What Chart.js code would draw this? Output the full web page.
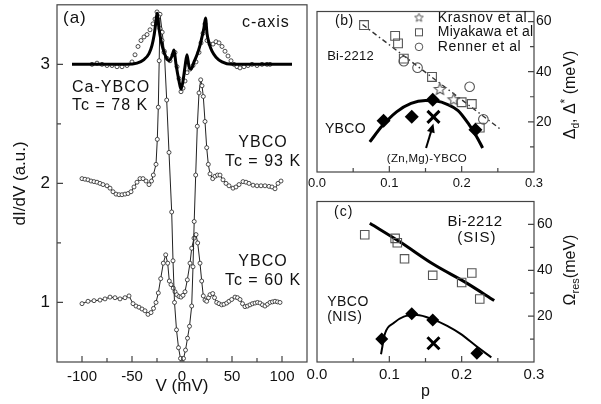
<!DOCTYPE html>
<html>
<head>
<meta charset="utf-8">
<script src="https://cdn.jsdelivr.net/npm/chart.js@4"></script>
<style>
body { margin: 0; background: #fff; }
#wrap { position: relative; width: 601px; height: 404px; overflow: hidden; }
canvas { position: absolute; }
</style>
</head>
<body>
<div id="wrap">
  <canvas id="ca" width="312" height="404" style="left:0;top:0"></canvas>
  <canvas id="cb" width="301" height="190" style="left:300px;top:0"></canvas>
  <canvas id="cc" width="301" height="214" style="left:300px;top:190px"></canvas>
</div>
<script>
const FONT = "'Liberation Sans', Arial, sans-serif";
Chart.defaults.font.family = FONT;
Chart.defaults.color = '#111';

// ---- panel (a): dI/dV spectra ----
const aTicksX = [-100, -50, 0, 50, 100];
const aTicksY = [1, 2, 3];

// Ca-YBCO, Tc = 78 K (open circles)
const caV = [-90, -85, -80, -75, -70, -65, -60, -55, -50, -47, -44, -41, -38, -35, -32, -29, -27, -25,
  -23.5, -22, -20, -18, -15, -12, -9, -7, -5, -3, -1, 1, 3, 5, 8, 11, 14, 17, 19, 21, 23, 25,
  28, 31, 34, 37, 40, 43, 46, 49, 52, 55, 58, 62, 66, 70, 75, 80, 85, 88];
const caY = [3.0, 3.01, 3.0, 2.99, 2.99, 2.98, 2.98, 2.99, 3.02, 3.08, 3.15, 3.2, 3.23, 3.25, 3.29, 3.34, 3.38, 3.44,
  3.4, 3.3, 3.2, 3.1, 3.05, 3.03, 3.08, 3.1, 2.98, 2.88, 2.77, 2.8, 2.86, 2.93, 2.96, 2.99, 3.02, 3.1, 3.18, 3.26, 3.34, 3.2,
  3.17, 3.17, 3.19, 3.18, 3.15, 3.11, 3.07, 3.03, 3.0, 2.98, 2.97, 2.98, 2.99, 3.0, 2.99, 3.0, 3.0, 3.0];

// Ca-YBCO fit (thick line)
const caFitV = [-110, -70, -55, -45, -38, -33, -30, -28, -26.5, -25, -23, -21, -19, -16, -13, -10, -8, -6, -3, -1,
  1, 3, 5, 7, 9, 12, 15, 18, 20, 22, 23.5, 25, 27, 30, 34, 40, 50, 60, 110];
const caFitY = [3.0, 3.0, 3.0, 3.01, 3.04, 3.09, 3.16, 3.24, 3.33, 3.43, 3.3, 3.2, 3.13, 3.06, 3.03, 3.07, 3.12, 3.0, 2.86, 2.79,
  2.86, 2.98, 3.08, 2.98, 2.96, 3.02, 3.08, 3.16, 3.23, 3.31, 3.39, 3.26, 3.18, 3.11, 3.06, 3.02, 3.0, 3.0, 3.0];

// YBCO, Tc = 93 K
const y93V = [-100, -97, -94, -91, -88, -85, -82, -79, -75, -72, -69, -66, -63, -60, -57, -54, -51, -48, -45, -42,
  -39, -36, -33, -30.5, -28.7, -26, -24.7, -23.7, -22.8, -22, -19.8, -17.7, -15.3, -13, -10.3, -9, -7.5, -5.5, -3.5, -1.5,
  0, 1.5, 3.5, 5.5, 7.5, 9.7, 11, 12.2, 13.7, 15.3, 17, 18.7, 20, 21.3, 23, 24.7, 26.3, 28, 30.7, 33,
  35.5, 38, 41, 44, 47, 51, 54, 57, 61, 64, 67, 71, 75, 79, 83, 87, 90, 93, 96, 99];
const y93Y = [2.04, 2.035, 2.03, 2.02, 2.015, 2.01, 2.0, 1.99, 1.98, 1.96, 1.93, 1.91, 1.905, 1.905, 1.91, 1.915, 1.93, 1.97, 2.01, 2.04,
  2.04, 2.02, 1.99, 2.02, 2.07, 2.16, 2.37, 2.64, 3.03, 3.42, 3.27, 3.11, 2.7, 2.26, 1.76, 1.35, 1.0, 0.77, 0.62, 0.53,
  0.5, 0.53, 0.6, 0.7, 0.8, 0.97, 1.3, 1.68, 2.07, 2.48, 2.76, 2.87, 2.82, 2.73, 2.52, 2.3, 2.16, 2.08, 2.04, 2.06,
  2.07, 2.07, 2.03, 2.0, 1.98, 1.96, 1.97, 1.99, 2.015, 2.01, 2.0, 1.985, 1.98, 1.98, 1.98, 1.975, 1.97, 1.955, 2.0, 2.02];

// YBCO, Tc = 60 K
const y60V = [-100, -94, -88, -82, -77, -72, -67, -62, -57, -53, -49, -46, -43, -40, -37, -34, -31, -28.5, -26, -23.7,
  -21.3, -18.7, -16.3, -14.3, -12.7, -11, -8.7, -7, -5.3, -3, -1, 1, 3, 5.3, 8, 9.7, 12, 14, 15.7, 18,
  19.7, 21.3, 23, 24.7, 26.5, 28, 30.7, 32.5, 34.7, 37, 39.7, 42, 44.7, 47, 49.7, 53, 55.5, 58, 60.5, 63,
  65.5, 68, 70.5, 73, 75.5, 78, 80.5, 83, 85.5, 88, 90.5, 93, 95.5, 98];
const y60Y = [0.99, 1.01, 1.015, 1.02, 1.03, 1.045, 1.04, 1.03, 1.04, 1.055, 0.99, 0.97, 0.96, 0.945, 0.93, 0.9, 0.915, 0.95, 1.0, 1.08,
  1.2, 1.33, 1.4, 1.33, 1.18, 1.15, 1.12, 1.09, 1.065, 1.05, 1.045, 1.06, 1.09, 1.19, 1.33, 1.455, 1.54, 1.57, 1.5, 1.33,
  1.18, 1.055, 1.02, 1.01, 1.04, 1.065, 1.075, 1.04, 1.0, 0.99, 0.98, 0.985, 0.995, 1.01, 1.025, 1.045, 1.04, 1.025, 0.99, 0.965,
  0.97, 0.98, 0.99, 0.995, 1.0, 0.995, 0.98, 0.97, 0.985, 1.0, 1.005, 1.01, 1.005, 1.0];

// ---- panel (b): gap vs doping ----
const pTicks = [0, 0.1, 0.2, 0.3];
const eTicks = [20, 40, 60];
const miyP = [0.065, 0.108, 0.112, 0.12, 0.159, 0.2, 0.214, 0.225];
const miyGap = [58.6, 54.3, 51.3, 45.2, 37.9, 27.8, 27.1, 17.7];
const renP = [0.12, 0.139, 0.211, 0.23];
const renGap = [44.2, 41.6, 34, 21];
const kraP = [0.17, 0.189];
const kraGap = [32.9, 28.8];
const ybcoP = [0.092, 0.131, 0.16, 0.219];
const ybcoGap = [20.4, 22, 28.8, 16.8];
const znP = [0.161];
const znGap = [22];
const bisFitP = [0.063, 0.253];
const bisFitGap = [58.8, 17.2];
const ybcoFitP = [0.073, 0.09, 0.11, 0.13, 0.15, 0.165, 0.18, 0.195, 0.21, 0.22, 0.229];
const ybcoFitGap = [12, 18.3, 24, 27.4, 28.5, 28.3, 27, 24.5, 19, 14.5, 9.6];

// ---- panel (c): resonance energy vs doping ----
const sisP = [0.066, 0.108, 0.111, 0.121, 0.16, 0.2, 0.214, 0.225];
const sisRes = [55.5, 53.9, 52, 45, 37.8, 34.7, 38.8, 27.5];
const sisFitP = [0.073, 0.115, 0.161, 0.207, 0.245];
const sisFitRes = [60.5, 52.3, 42.6, 34.4, 26.8];
const nisP = [0.0895, 0.131, 0.16, 0.221];
const nisRes = [10, 21, 18.3, 3.8];
const znResP = [0.161];
const znRes = [8.2];
const nisFitP = [0.0885, 0.094, 0.106, 0.12, 0.138, 0.161, 0.18, 0.198, 0.22, 0.241];
const nisFitRes = [3.4, 12.4, 17, 19.8, 20.5, 18.5, 15.8, 12.4, 7, 2];

const pts = (xs, ys) => xs.map((x, i) => ({x, y: ys[i]}));

function starCanvas(r, color, lw) {
  const s = Math.ceil(2 * r + 2 * lw + 2);
  const c = document.createElement('canvas');
  c.width = s; c.height = s;
  const g = c.getContext('2d');
  g.strokeStyle = color; g.lineWidth = lw;
  g.beginPath();
  for (let i = 0; i < 10; i++) {
    const ang = -Math.PI / 2 + i * Math.PI / 5;
    const rr = i % 2 ? r * 0.45 : r;
    g.lineTo(s / 2 + rr * Math.cos(ang), s / 2 + rr * Math.sin(ang));
  }
  g.closePath(); g.stroke();
  return c;
}
const star = starCanvas(6, '#555', 1.1);
const starSmall = starCanvas(4.5, '#555', 1);

function label(ctx, text, x, y, size, align, spacing) {
  ctx.font = size + 'px ' + FONT;
  ctx.textAlign = align || 'left';
  ctx.textBaseline = 'middle';
  ctx.letterSpacing = (spacing || 0) + 'px';
  ctx.fillStyle = '#111';
  ctx.fillText(text, x, y);
  ctx.letterSpacing = '0px';
}

// rotated (bottom to top) title built from [text, size, dy] parts
function sideTitle(ctx, cx, cy, parts) {
  ctx.save();
  ctx.translate(cx, cy);
  ctx.rotate(-Math.PI / 2);
  ctx.textBaseline = 'middle';
  ctx.textAlign = 'left';
  ctx.fillStyle = '#111';
  let total = 0;
  parts.forEach(p => { ctx.font = p[1] + 'px ' + FONT; total += ctx.measureText(p[0]).width; });
  let x = -total / 2;
  parts.forEach(p => {
    ctx.font = p[1] + 'px ' + FONT;
    ctx.fillText(p[0], x, p[2]);
    x += ctx.measureText(p[0]).width;
  });
  ctx.restore();
}

// box round the plot area and inward tick marks
const framePlugin = {
  id: 'frame',
  afterDatasetsDraw(chart) {
    const {ctx, chartArea: a} = chart;
    ctx.save();
    ctx.strokeStyle = '#444';
    ctx.lineWidth = 1.2;
    ctx.strokeRect(a.left, a.top, a.right - a.left, a.bottom - a.top);
    Object.values(chart.scales).forEach(s => {
      const vals = s.ticks.map(t => t.value);
      const step = vals[1] - vals[0];
      const marks = [];
      vals.forEach(v => { marks.push([v, 6]); marks.push([v - step / 2, 4]); });
      marks.push([vals[vals.length - 1] + step / 2, 4]);
      ctx.beginPath();
      marks.forEach(([v, len]) => {
        const p = s.getPixelForValue(v);
        if (s.isHorizontal()) {
          if (p < a.left + 2 || p > a.right - 2) return;
          ctx.moveTo(p, a.bottom); ctx.lineTo(p, a.bottom - len);
        } else {
          if (p < a.top + 2 || p > a.bottom - 2) return;
          const right = s.position === 'right';
          const x0 = right ? a.right : a.left;
          ctx.moveTo(x0, p); ctx.lineTo(x0 + (right ? -len : len), p);
        }
      });
      ctx.stroke();
    });
    ctx.restore();
  }
};

function noPad(s) { s.paddingLeft = 0; s.paddingRight = 0; s.paddingTop = 0; s.paddingBottom = 0; }
function axisX(ticks, min, max, h, size, pad, fmt, title) {
  return {
    type: 'linear', min, max,
    afterBuildTicks: s => { s.ticks = ticks.map(v => ({value: v})); },
    afterFit: s => { s.height = h; noPad(s); },
    grid: {display: false, drawTicks: false},
    border: {display: false},
    ticks: {font: {size}, color: '#111', padding: pad, maxRotation: 0, autoSkip: false, callback: fmt},
    title: title
  };
}
function axisY(ticks, min, max, w, size, pad, position, title) {
  return {
    type: 'linear', min, max, position,
    afterBuildTicks: s => { s.ticks = ticks.map(v => ({value: v})); },
    afterFit: s => { s.width = w; noPad(s); },
    grid: {display: false, drawTicks: false},
    border: {display: false},
    ticks: {font: {size}, color: '#111', padding: pad, autoSkip: false, callback: v => String(v)},
    title: title
  };
}
const common = {
  responsive: false, animation: false, devicePixelRatio: 1,
  plugins: {legend: {display: false}, tooltip: {enabled: false}}
};

// ---------- chart (a) ----------
const aNotes = {
  id: 'aNotes',
  afterDraw(chart) {
    const ctx = chart.ctx;
    label(ctx, '(a)', 63, 18, 17, 'left', 1);
    label(ctx, 'c-axis', 242, 23, 16, 'left', 1);
    label(ctx, 'Ca-YBCO', 72, 88, 16, 'left', 1);
    label(ctx, 'Tc = 78 K', 72, 106, 16, 'left', 1);
    label(ctx, 'YBCO', 263, 143, 16, 'center', 1);
    label(ctx, 'Tc = 93 K', 263, 162, 16, 'center', 1);
    label(ctx, 'YBCO', 263, 262, 16, 'center', 1);
    label(ctx, 'Tc = 60 K', 263, 281, 16, 'center', 1);
  }
};
const circ = {pointStyle: 'circle', pointRadius: 2, pointBorderWidth: 0.8,
  pointBorderColor: '#222', pointBackgroundColor: '#fff'};
new Chart(document.getElementById('ca'), {
  type: 'scatter',
  data: {datasets: [
    {data: pts(caFitV, caFitY), showLine: true, borderColor: '#000', borderWidth: 3,
      pointRadius: 0, cubicInterpolationMode: 'monotone'},
    Object.assign({data: pts(caV, caY), showLine: false}, circ),
    Object.assign({data: pts(y93V, y93Y), showLine: true, borderColor: '#222', borderWidth: 1}, circ),
    Object.assign({data: pts(y60V, y60Y), showLine: true, borderColor: '#222', borderWidth: 1}, circ)
  ]},
  options: Object.assign({}, common, {
    layout: {padding: {left: 0, top: 3, right: 5, bottom: 0}},
    scales: {
      x: axisX(aTicksX, -125, 125, 42, 15, 6, v => String(v),
        {display: true, text: 'V (mV)', font: {size: 17}, color: '#111', padding: {top: 0, bottom: 7}}),
      y: axisY(aTicksY, 0.5, 3.5, 57, 17, 7, 'left',
        {display: true, text: 'dI/dV (a.u.)', font: {size: 17}, color: '#111', padding: {top: 10, bottom: 0}})
    }
  }),
  plugins: [framePlugin, aNotes]
});

// ---------- chart (b) ----------
const bNotes = {
  id: 'bNotes',
  afterDraw(chart) {
    const ctx = chart.ctx;
    const X = v => chart.scales.x.getPixelForValue(v);
    const Y = v => chart.scales.y.getPixelForValue(v);
    label(ctx, '(b)', X(0.025), Y(60), 14, 'left', 0.5);
    label(ctx, 'Bi-2212', X(0.014), Y(46), 13, 'left', 0.3);
    label(ctx, 'YBCO', X(0.011), Y(16.9), 14, 'left', 0.3);
    label(ctx, '(Zn,Mg)-YBCO', X(0.152), Y(5.4), 11.5, 'center', 0.3);
    // arrow to the (Zn,Mg)-YBCO point
    const x1 = X(0.1508), y1 = Y(9.6), x2 = X(0.161), y2 = Y(19.3);
    const ang = Math.atan2(y2 - y1, x2 - x1);
    ctx.save();
    ctx.strokeStyle = '#000'; ctx.fillStyle = '#000'; ctx.lineWidth = 2;
    ctx.beginPath(); ctx.moveTo(x1, y1);
    ctx.lineTo(x2 - 6 * Math.cos(ang), y2 - 6 * Math.sin(ang)); ctx.stroke();
    ctx.beginPath(); ctx.moveTo(x2, y2);
    ctx.lineTo(x2 - 9 * Math.cos(ang) + 4 * Math.sin(ang), y2 - 9 * Math.sin(ang) - 4 * Math.cos(ang));
    ctx.lineTo(x2 - 9 * Math.cos(ang) - 4 * Math.sin(ang), y2 - 9 * Math.sin(ang) + 4 * Math.cos(ang));
    ctx.closePath(); ctx.fill();
    // legend
    const lx = X(0.141), tx = X(0.167);
    ctx.drawImage(starSmall, lx - starSmall.width / 2, Y(61.5) - starSmall.height / 2);
    ctx.strokeStyle = '#555'; ctx.lineWidth = 1;
    ctx.strokeRect(lx - 3.5, Y(55.7) - 3.5, 7, 7);
    ctx.beginPath(); ctx.arc(lx, Y(49.9), 3.8, 0, 2 * Math.PI); ctx.stroke();
    ctx.restore();
    label(ctx, 'Krasnov et al', tx, Y(61.5), 14, 'left', 0.6);
    label(ctx, 'Miyakawa et al', tx, Y(55.7), 14, 'left', 0.2);
    label(ctx, 'Renner et al', tx, Y(49.9), 14, 'left', 0.6);
    sideTitle(ctx, 271, 95, [['\u0394', 16, 0], ['d', 10, 5], [', \u0394', 16, 0], ['*', 12, -5], [' (meV)', 16, 0]]);
  }
};
new Chart(document.getElementById('cb'), {
  type: 'scatter',
  data: {datasets: [
    {data: pts(znP, znGap), pointStyle: 'crossRot', pointRadius: 8.5, pointBorderWidth: 3, pointBorderColor: '#000'},
    {data: pts(ybcoP, ybcoGap), pointStyle: 'rectRot', pointRadius: 7, pointBorderWidth: 0,
      pointBackgroundColor: '#000', pointBorderColor: '#000'},
    {data: pts(kraP, kraGap), pointStyle: star},
    {data: pts(renP, renGap), pointStyle: 'circle', pointRadius: 4.8, pointBorderWidth: 1.1,
      pointBorderColor: '#555', pointBackgroundColor: 'rgba(0,0,0,0)'},
    {data: pts(miyP, miyGap), pointStyle: 'rect', pointRadius: 6.2, pointBorderWidth: 1.1,
      pointBorderColor: '#555', pointBackgroundColor: 'rgba(0,0,0,0)'},
    {data: pts(ybcoFitP, ybcoFitGap), showLine: true, borderColor: '#000', borderWidth: 3,
      pointRadius: 0, cubicInterpolationMode: 'monotone'},
    {data: pts(bisFitP, bisFitGap), showLine: true, borderColor: '#333', borderWidth: 1.4,
      borderDash: [5, 3, 1.5, 3], pointRadius: 0}
  ]},
  options: Object.assign({}, common, {
    layout: {padding: {left: 17, top: 8, right: 0, bottom: 0}},
    scales: {
      x: axisX(pTicks, 0, 0.3, 18, 13, 4, v => v.toFixed(1), {display: false}),
      y: axisY(eTicks, 0, 64, 67, 14, 2, 'right', {display: false})
    }
  }),
  plugins: [framePlugin, bNotes]
});

// ---------- chart (c) ----------
const cNotes = {
  id: 'cNotes',
  afterDraw(chart) {
    const ctx = chart.ctx;
    const X = v => chart.scales.x.getPixelForValue(v);
    const Y = v => chart.scales.y.getPixelForValue(v);
    label(ctx, '(c)', X(0.0235), Y(65.4), 14, 'left', 1);
    label(ctx, 'Bi-2212', X(0.2185), Y(61.2), 15, 'center', 0.5);
    label(ctx, '(SIS)', X(0.221), Y(54.2), 15, 'center', 1);
    label(ctx, 'YBCO', X(0.014), Y(26.1), 14, 'left', 0.5);
    label(ctx, '(NIS)', X(0.014), Y(19.5), 14, 'left', 0.5);
    sideTitle(ctx, 271, 80, [['\u03A9', 16, 0], ['res', 11, 5], ['(meV)', 16, 0]]);
  }
};
new Chart(document.getElementById('cc'), {
  type: 'scatter',
  data: {datasets: [
    {data: pts(znResP, znRes), pointStyle: 'crossRot', pointRadius: 8.5, pointBorderWidth: 3, pointBorderColor: '#000'},
    {data: pts(nisP, nisRes), pointStyle: 'rectRot', pointRadius: 6.5, pointBorderWidth: 0,
      pointBackgroundColor: '#000', pointBorderColor: '#000'},
    {data: pts(sisP, sisRes), pointStyle: 'rect', pointRadius: 6, pointBorderWidth: 1.1,
      pointBorderColor: '#555', pointBackgroundColor: 'rgba(0,0,0,0)'},
    {data: pts(sisFitP, sisFitRes), showLine: true, borderColor: '#000', borderWidth: 3,
      pointRadius: 0, cubicInterpolationMode: 'monotone'},
    {data: pts(nisFitP, nisFitRes), showLine: true, borderColor: '#000', borderWidth: 2,
      pointRadius: 0, cubicInterpolationMode: 'monotone'}
  ]},
  options: Object.assign({}, common, {
    layout: {padding: {left: 17, top: 4, right: 0, bottom: 0}},
    scales: {
      x: axisX(pTicks, 0, 0.3, 42, 15, 4, v => v.toFixed(1),
        {display: true, text: 'p', font: {size: 16}, color: '#111', padding: {top: 0, bottom: 3}}),
      y: axisY(eTicks, 0, 70, 67, 14, 3, 'right', {display: false})
    }
  }),
  plugins: [framePlugin, cNotes]
});
</script>
</body>
</html>
